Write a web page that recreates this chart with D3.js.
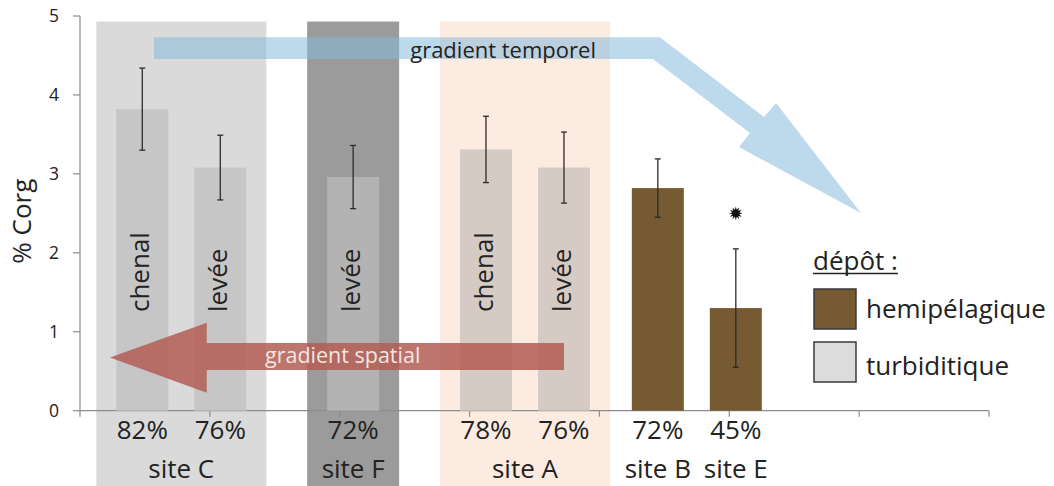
<!DOCTYPE html>
<html><head><meta charset="utf-8">
<script src="https://cdn.jsdelivr.net/npm/d3@7"></script>
<style>
body{margin:0;background:#fff}
svg{display:block}
text{font-family:"Open Sans",sans-serif;fill:#222}
</style>
</head><body>
<svg id="chart" width="1054" height="486"></svg>
<script>
// ---- data ----
const barSites    = ["C","C","F","A","A","B","E"];
const barKinds    = ["chenal","levée","levée","chenal","levée","",""];
const barValues   = [3.82,3.08,2.96,3.31,3.08,2.82,1.30];
const barErrors   = [0.52,0.41,0.40,0.42,0.45,0.37,0.75];
const barPercents = ["82%","76%","72%","78%","76%","72%","45%"];
const barDeposits = ["turbiditique","turbiditique","turbiditique","turbiditique","turbiditique","hemipélagique","hemipélagique"];
const barClusters = ["C","C","F","A","A","BE","BE"];
const significant = [false,false,false,false,false,false,true];
const clusterOrder = ["C","F","A","BE"];
const yTicks = [0,1,2,3,4,5];
const xTicks = [0,1,2,3,4,5,6,7];
const legendItems = ["hemipélagique","turbiditique"];
const yTitle = "% Corg";
const legendTitle = "dépôt :";
const temporalLabel = "gradient temporel";
const spatialLabel = "gradient spatial";
// annotation arrows, in axis units (x: category axis units, y: %Corg)
const temporalArrow = [[0.570,4.732],[4.466,4.732],[5.267,3.719],[5.360,3.897],[6.014,2.503],[5.075,3.339],[5.159,3.517],[4.412,4.455],[0.570,4.455]];
const spatialArrow  = [[3.727,0.858],[0.976,0.858],[0.976,1.115],[0.231,0.674],[0.976,0.228],[0.976,0.516],[3.727,0.516]];

// ---- styles ----
const clusterBand = {C:"#dadada", F:"#9b9b9b", A:"#fbebe0"};
const clusterBar  = {C:"#c6c6c6", F:"#b3b3b3", A:"#d6cbc4", BE:"#765a31"};
const depositColor = {"hemipélagique":"#765a31", "turbiditique":"#dcdcdc"};

const svg = d3.select("#chart");
const x = d3.scaleLinear().domain([0,7]).range([80,989]);
const y = d3.scaleLinear().domain([0,5]).range([410.7,16]);
const cluster = d3.scalePoint().domain(clusterOrder).range([x(0.78), x(4.75)]);
const idx = barValues.map((d,i)=>i);
const members = c => idx.filter(i => barClusters[i] === c);
function cx(i){
  const m = members(barClusters[i]);
  const inner = d3.scalePoint().domain(m).range([-39,39]);
  return cluster(barClusters[i]) + inner(i);
}
const barW = 52, bandPad = 20;

// site background bands
const bandClusters = clusterOrder.filter(c => clusterBand[c]);
svg.append("g").selectAll("rect").data(bandClusters).join("rect")
  .attr("x", c => d3.min(members(c), cx) - barW/2 - bandPad)
  .attr("width", c => d3.max(members(c), cx) - d3.min(members(c), cx) + barW + 2*bandPad)
  .attr("y", y(4.93)).attr("height", 486 - y(4.93))
  .attr("fill", c => clusterBand[c]);

// axes
const axisColor = "#8c8c8c";
const ax = svg.append("g");
ax.append("line").attr("x1", x(0)).attr("x2", x(0)).attr("y1", y(5)).attr("y2", y(0)+6)
  .attr("stroke", axisColor).attr("stroke-width",1.2);
ax.append("line").attr("x1", x(0)).attr("x2", x(7)).attr("y1", y(0)).attr("y2", y(0))
  .attr("stroke", axisColor).attr("stroke-width",1.2);
ax.selectAll(".xt").data(xTicks.slice(1)).join("line")
  .attr("x1", d=>x(d)).attr("x2", d=>x(d)).attr("y1", y(0)).attr("y2", y(0)+6)
  .attr("stroke", axisColor).attr("stroke-width",1.2);
ax.selectAll(".yt").data(yTicks).join("line")
  .attr("x1", x(0)-7).attr("x2", x(0)).attr("y1", d=>y(d)).attr("y2", d=>y(d))
  .attr("stroke", axisColor).attr("stroke-width",1.2);
ax.selectAll("text").data(yTicks).join("text")
  .attr("x", x(0)-21).attr("y", d=>y(d)).attr("dy","0.36em")
  .attr("text-anchor","end").style("font-size","17.5px").text(d=>d);

svg.append("text").attr("transform", `translate(31,${y(2.4)}) rotate(-90)`)
  .attr("text-anchor","middle").style("font-size","26px").text(yTitle);

// bars
svg.append("g").selectAll("rect").data(idx).join("rect")
  .attr("x", i => cx(i) - barW/2).attr("width", barW)
  .attr("y", i => y(barValues[i])).attr("height", i => y(0) - y(barValues[i]))
  .attr("fill", i => clusterBar[barClusters[i]]);

// error bars
const eb = svg.append("g").attr("stroke","#2b2b2b").attr("stroke-width",1.3);
idx.forEach(i => {
  const hi = y(barValues[i]+barErrors[i]), lo = y(barValues[i]-barErrors[i]);
  eb.append("line").attr("x1",cx(i)).attr("x2",cx(i)).attr("y1",hi).attr("y2",lo);
  eb.append("line").attr("x1",cx(i)-3).attr("x2",cx(i)+3).attr("y1",hi).attr("y2",hi);
  eb.append("line").attr("x1",cx(i)-3).attr("x2",cx(i)+3).attr("y1",lo).attr("y2",lo);
});

// rotated bar labels
svg.append("g").selectAll("text").data(idx.filter(i => barKinds[i])).join("text")
  .attr("transform", i => `translate(${cx(i)+7},${y(1.25)}) rotate(-90)`)
  .style("font-size","26px").text(i => barKinds[i]);

// significance star
const starPts = d3.range(24).map(k => {
  const r = k % 2 ? 3.6 : 6.8, a = k * Math.PI / 12;
  return [r*Math.sin(a), -r*Math.cos(a)];
});
svg.append("g").selectAll("path").data(idx.filter(i => significant[i])).join("path")
  .attr("transform", i => `translate(${cx(i)},${y(barValues[i]+barErrors[i]+0.45)})`)
  .attr("d", d3.line()(starPts) + "Z").attr("fill","#111");

// arrows
const toPx = p => [x(p[0]), y(p[1])];
svg.append("path").attr("d", d3.line()(temporalArrow.map(toPx)) + "Z")
  .attr("fill","#86badd").attr("fill-opacity",0.55);
svg.append("text").attr("x", x(3.258)).attr("y", y(4.47)).attr("text-anchor","middle")
  .style("font-size","22px").text(temporalLabel);
svg.append("path").attr("d", d3.line()(spatialArrow.map(toPx)) + "Z")
  .attr("fill","#b25d54").attr("fill-opacity",0.85);
svg.append("text").attr("x", x(1.425)).attr("y", y(0.604))
  .style("font-size","21.5px").style("fill","#f6e4e2").text(spatialLabel);

// bottom labels
svg.append("g").selectAll("text").data(idx).join("text")
  .attr("x", i => cx(i)).attr("y", y(0)+28.5).attr("text-anchor","middle")
  .style("font-size","26px").text(i => barPercents[i]);
const siteNames = Array.from(new Set(barSites));
svg.append("g").selectAll("text").data(siteNames).join("text")
  .attr("x", s => d3.mean(idx.filter(i => barSites[i]===s), cx)).attr("y", y(0)+67.5)
  .attr("text-anchor","middle").style("font-size","26px").text(s => "site " + s);

// legend
const lg = svg.append("g");
const lt = lg.append("text").attr("x",813).attr("y",270).style("font-size","26px").text(legendTitle);
const tw = lt.node().getComputedTextLength();
lg.append("line").attr("x1",813).attr("x2",813+tw).attr("y1",273.5).attr("y2",273.5)
  .attr("stroke","#222").attr("stroke-width",1.4);
legendItems.forEach((d,k) => {
  lg.append("rect").attr("x",814).attr("y",289 + k*53).attr("width",42).attr("height",40)
    .attr("fill", depositColor[d]).attr("stroke","#3a3a3a").attr("stroke-width",1.5);
  lg.append("text").attr("x",866).attr("y",318 + k*57).style("font-size","26px").text(d);
});
</script>
</body></html>
